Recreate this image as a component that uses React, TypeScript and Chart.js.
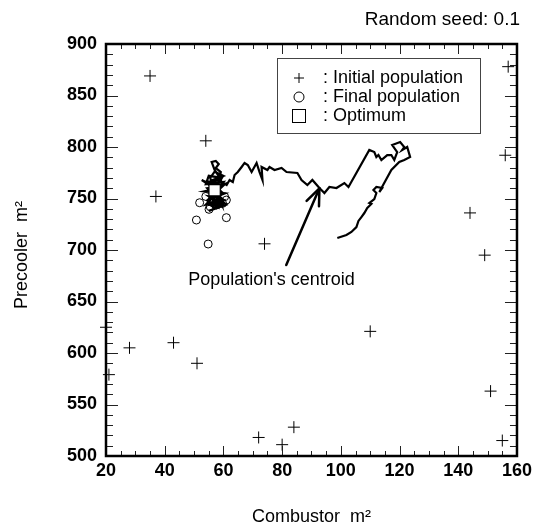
import React, { useEffect, useRef } from "react";
import { Chart, registerables } from "chart.js";

Chart.register(...registerables);

const FONT = "'Liberation Sans', Arial, Helvetica, sans-serif";

// Axis ranges and tick labels
const X_TICKS = [20, 40, 60, 80, 100, 120, 140, 160];
const Y_TICKS = [500, 550, 600, 650, 700, 750, 800, 850, 900];

// Initial population (Combustor, Precooler)
const initialX = [35, 37, 54, 74, 21, 28, 43, 51, 110, 149, 151, 155, 72, 80, 84, 20, 157, 156, 144];
const initialY = [869, 752, 806, 706, 579, 605, 610, 590, 621, 695, 563, 515, 518, 511, 528, 625, 878, 792, 736];

// Final population
const finalX = [51.9, 55.1, 57.6, 59.7, 61.0, 60.4, 50.8, 61.0, 54.8, 54.0, 58.0, 56.0, 57.5, 55.5];
const finalY = [745.9, 739.5, 743.7, 745.3, 748.5, 751.7, 729.1, 731.4, 705.8, 752.0, 756.0, 748.0, 760.0, 742.0];

// Optimum
const optimumX = [57];
const optimumY = [758];

// Trajectory of the population's centroid
const centroidX = [
  98.8, 101.9, 103.6, 105.3, 106.0, 107.0, 108.0, 109.0, 110.4, 109.7, 111.4, 112.1, 111.1, 112.1, 114.1, 113.1,
  117.2, 119.9, 121.6, 123.6, 122.6, 120.9, 121.6, 120.2, 117.5, 119.2, 118.2, 117.2, 115.8, 113.8, 112.8, 112.1,
  111.4, 109.7, 102.6, 101.2, 98.5, 96.1, 94.4, 92.7, 90.3, 88.6, 86.6, 85.2, 81.5, 79.8, 77.4, 75.7, 75.0, 73.0,
  73.3, 72.3, 71.3, 69.6, 68.3, 67.2, 66.2, 64.9, 63.8, 63.2, 62.1, 61.1, 59.4, 58.4, 57.0, 56.0, 57.4, 58.4, 57.4,
  59.1, 58.7, 54.0, 52.6, 54.7, 56.4, 55.7, 56.7, 55.3, 57.4, 58.7, 59.4, 58.0, 56.7, 57.7, 55.5, 58.5, 56.0, 59.0,
  57.0, 55.0, 58.0, 60.0, 57.5, 55.0, 59.5, 56.5, 58.5, 57.0,
  59.5, 55.0, 54.0, 60.0, 58.0, 53.5, 60.5, 56.0, 54.0, 60.0, 58.0, 55.0, 61.0, 57.0, 54.5, 59.0, 56.5, 60.0, 57.0,
  55.5, 58.5, 55.0, 59.5, 56.0, 60.5, 54.5, 58.0, 56.0,
];
const centroidY = [
  711.6, 714.6, 717.5, 722.3, 728.2, 732.0, 735.9, 740.8, 744.7, 745.6, 749.5, 755.3, 758.2, 761.2, 760.2, 756.3,
  777.7, 785.4, 787.4, 790.3, 800.0, 797.1, 800.0, 804.9, 801.9, 795.1, 787.4, 792.2, 792.2, 787.4, 792.2, 790.3,
  795.1, 797.1, 761.2, 765.0, 760.2, 761.2, 755.3, 760.2, 768.0, 763.1, 768.0, 774.8, 775.7, 779.6, 777.7, 780.6,
  777.7, 780.6, 768.0, 775.7, 784.5, 775.7, 782.5, 784.5, 780.6, 775.7, 772.8, 766.0, 768.0, 763.1, 766.0, 771.8,
  777.7, 785.4, 786.4, 783.5, 779.6, 775.7, 768.0, 766.0, 768.0, 764.1, 760.2, 752.4, 746.6, 743.7, 748.5, 752.4,
  743.7, 750.5, 754.4, 760.2, 758.0, 755.0, 750.0, 746.0, 741.0, 745.0, 749.0, 744.0, 752.0, 748.0, 756.0, 762.0,
  765.0, 758.0,
  770.0, 772.0, 764.0, 766.0, 760.0, 757.0, 755.0, 750.0, 744.0, 748.0, 741.0, 738.0, 744.0, 753.0, 760.0, 762.0,
  768.0, 772.0, 776.0, 770.0, 745.0, 752.0, 750.0, 758.0, 764.0, 748.0, 742.0, 754.0,
];

// Annotation arrow (tail at the label, head on the trajectory) and label anchor
const ARROW_TAIL = [81.4, 685.4];
const ARROW_HEAD = [92.7, 759.9];
const CENTROID_LABEL = "Population's centroid";
const CENTROID_LABEL_AT = [76.4, 670.9];

const TITLE = "Random seed: 0.1";
const X_TITLE = "Combustor  m²";
const Y_TITLE = "Precooler  m²";
const LEGEND_LABELS = [": Initial population", ": Final population", ": Optimum"];

const toPoints = (xs: number[], ys: number[]) => xs.map((x, i) => ({ x, y: ys[i] }));

const decorations = {
  id: "decorations",
  afterDatasetsDraw(chart: any) {
    const { ctx, chartArea: a, scales } = chart;
    const sx = scales.x;
    const sy = scales.y;
    const seg = (x1: number, y1: number, x2: number, y2: number) => {
      ctx.beginPath();
      ctx.moveTo(x1, y1);
      ctx.lineTo(x2, y2);
      ctx.stroke();
    };
    ctx.save();

    // inward tick marks on all four sides
    ctx.strokeStyle = "#222";
    ctx.lineWidth = 1;
    for (let v = X_TICKS[0]; v <= X_TICKS[X_TICKS.length - 1]; v += 5) {
      const px = Math.round(sx.getPixelForValue(v)) + 0.5;
      const len = v % 20 === 0 ? 10 : 5;
      seg(px, a.bottom, px, a.bottom - len);
      seg(px, a.top, px, a.top + len);
    }
    for (let v = Y_TICKS[0]; v <= Y_TICKS[Y_TICKS.length - 1]; v += 10) {
      const py = Math.round(sy.getPixelForValue(v)) + 0.5;
      const len = v % 50 === 0 ? 12 : 7;
      seg(a.left, py, a.left + len, py);
      seg(a.right, py, a.right - len, py);
    }

    // plot frame
    ctx.strokeStyle = "#000";
    ctx.lineWidth = 2.5;
    ctx.strokeRect(a.left, a.top, a.right - a.left, a.bottom - a.top);

    // arrow pointing at the centroid trajectory
    const tx = sx.getPixelForValue(ARROW_TAIL[0]);
    const ty = sy.getPixelForValue(ARROW_TAIL[1]);
    const hx = sx.getPixelForValue(ARROW_HEAD[0]);
    const hy = sy.getPixelForValue(ARROW_HEAD[1]);
    ctx.lineWidth = 2.5;
    ctx.lineCap = "round";
    seg(tx, ty, hx, hy);
    const ang = Math.atan2(ty - hy, tx - hx);
    const barb = 18;
    const spread = (22 * Math.PI) / 180;
    seg(hx, hy, hx + barb * Math.cos(ang + spread), hy + barb * Math.sin(ang + spread));
    seg(hx, hy, hx + barb * Math.cos(ang - spread), hy + barb * Math.sin(ang - spread));
    ctx.lineCap = "butt";

    // annotation text
    ctx.fillStyle = "#000";
    ctx.font = `18px ${FONT}`;
    ctx.textAlign = "center";
    ctx.textBaseline = "middle";
    ctx.fillText(CENTROID_LABEL, sx.getPixelForValue(CENTROID_LABEL_AT[0]), sy.getPixelForValue(CENTROID_LABEL_AT[1]));

    // legend box
    const lx = a.left + 171;
    const ly = a.top + 14;
    const lw = 203;
    const lh = 75;
    ctx.fillStyle = "#fff";
    ctx.fillRect(lx, ly, lw, lh);
    ctx.strokeStyle = "#444";
    ctx.lineWidth = 1;
    ctx.strokeRect(lx + 0.5, ly + 0.5, lw, lh);
    const symX = lx + 22;
    const rows = [ly + 20, ly + 39, ly + 58];
    ctx.strokeStyle = "#000";
    ctx.lineWidth = 1;
    seg(symX - 5, rows[0], symX + 5, rows[0]);
    seg(symX, rows[0] - 5, symX, rows[0] + 5);
    ctx.beginPath();
    ctx.arc(symX, rows[1], 5, 0, Math.PI * 2);
    ctx.stroke();
    ctx.strokeRect(symX - 6.5, rows[2] - 6.5, 13, 13);
    ctx.fillStyle = "#000";
    ctx.textAlign = "left";
    LEGEND_LABELS.forEach((t, i) => ctx.fillText(t, lx + 46, rows[i]));

    // chart title
    ctx.font = `19px ${FONT}`;
    ctx.textAlign = "right";
    ctx.fillText(TITLE, a.right + 3, 20);

    // axis titles
    ctx.font = `18px ${FONT}`;
    ctx.textAlign = "center";
    ctx.textBaseline = "alphabetic";
    ctx.fillText(X_TITLE, (a.left + a.right) / 2, chart.height - 2);
    ctx.translate(27, (a.top + a.bottom) / 2 + 5);
    ctx.rotate(-Math.PI / 2);
    ctx.fillText(Y_TITLE, 0, 0);

    ctx.restore();
  },
};

export default function App() {
  const canvasRef = useRef<HTMLCanvasElement | null>(null);

  useEffect(() => {
    if (!canvasRef.current) return;
    const tickFont = { family: FONT, size: 18, weight: "bold" as const };
    const chart = new Chart(canvasRef.current, {
      type: "scatter",
      data: {
        datasets: [
          {
            label: "Optimum",
            data: toPoints(optimumX, optimumY),
            pointStyle: "rect",
            pointRadius: 8,
            backgroundColor: "#fff",
            borderColor: "#000",
            borderWidth: 1.2,
          },
          {
            label: "Final population",
            data: toPoints(finalX, finalY),
            pointStyle: "circle",
            pointRadius: 4,
            backgroundColor: "rgba(0,0,0,0)",
            borderColor: "#000",
            borderWidth: 1,
          },
          {
            label: "Initial population",
            data: toPoints(initialX, initialY),
            pointStyle: "cross",
            pointRadius: 6,
            borderColor: "#000",
            borderWidth: 1,
            clip: false,
          },
          {
            label: "Population's centroid",
            data: toPoints(centroidX, centroidY),
            showLine: true,
            pointRadius: 0,
            borderColor: "#000",
            borderWidth: 2.2,
            tension: 0,
          },
        ],
      },
      options: {
        animation: false,
        responsive: true,
        maintainAspectRatio: false,
        layout: { padding: { top: 44, right: 18, bottom: 0, left: 0 } },
        plugins: {
          legend: { display: false },
          tooltip: { enabled: false },
          title: { display: false },
        },
        scales: {
          x: {
            type: "linear",
            min: X_TICKS[0],
            max: X_TICKS[X_TICKS.length - 1],
            afterBuildTicks: (s: any) => {
              s.ticks = X_TICKS.map((value) => ({ value }));
            },
            ticks: { font: tickFont, color: "#000", padding: 4, maxRotation: 0 },
            grid: { display: false, drawTicks: false },
            border: { display: false },
            afterFit: (s: any) => {
              s.height = 68;
            },
          },
          y: {
            type: "linear",
            min: Y_TICKS[0],
            max: Y_TICKS[Y_TICKS.length - 1],
            afterBuildTicks: (s: any) => {
              s.ticks = Y_TICKS.map((value) => ({ value }));
            },
            ticks: { font: tickFont, color: "#000", padding: 9 },
            grid: { display: false, drawTicks: false },
            border: { display: false },
            afterFit: (s: any) => {
              s.width = 106;
            },
          },
        },
      },
      plugins: [decorations],
    });
    return () => chart.destroy();
  }, []);

  return (
    <div style={{ position: "fixed", left: 0, top: 0, width: 536, height: 524, background: "#fff" }}>
      <canvas ref={canvasRef} />
    </div>
  );
}
